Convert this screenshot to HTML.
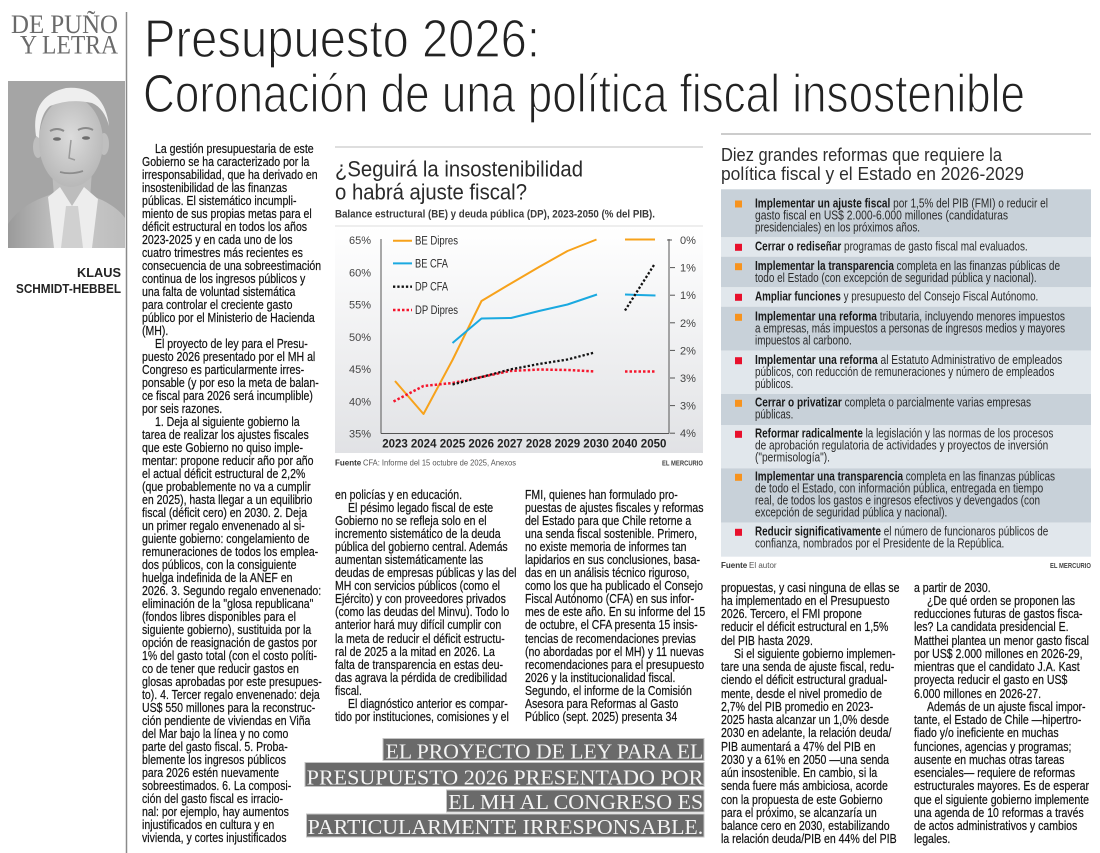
<!DOCTYPE html>
<html lang="es">
<head>
<meta charset="utf-8">
<style>
  html,body{margin:0;padding:0;background:#fff;}
  body{width:1100px;height:853px;position:relative;overflow:hidden;}
  svg.page{position:absolute;left:0;top:0;}
  .c{position:absolute;font-family:"Liberation Sans",sans-serif;font-size:13px;color:#111;white-space:pre;transform:scaleX(.81);transform-origin:0 0;-webkit-text-stroke:0.2px #111;}
  .i{display:inline-block;width:16px;}
  #c1{left:142px;top:141.5px;line-height:13px;}
  #c2{left:335px;top:487.5px;line-height:13.1px;}
  #c3{left:525px;top:487.5px;line-height:13.1px;}
  #c4{left:721px;top:580.5px;line-height:13.25px;}
  #c5{left:914px;top:580.5px;line-height:13.25px;}
</style>
</head>
<body>
<svg class="page" width="1100" height="853" viewBox="0 0 1100 853" xmlns="http://www.w3.org/2000/svg" font-family="Liberation Sans, sans-serif">
  <defs>
    <linearGradient id="bg" x1="0" y1="0" x2="0" y2="1">
      <stop offset="0" stop-color="#ffffff"/>
      <stop offset="1" stop-color="#e1e2e5"/>
    </linearGradient>
    <linearGradient id="suit" x1="0" y1="0" x2="1" y2="0">
      <stop offset="0" stop-color="#9a9a9a"/>
      <stop offset="0.5" stop-color="#c9c9c9"/>
      <stop offset="1" stop-color="#bdbdbd"/>
    </linearGradient>
    <radialGradient id="face" cx="0.5" cy="0.45" r="0.6">
      <stop offset="0" stop-color="#dcdcdc"/>
      <stop offset="1" stop-color="#b5b5b5"/>
    </radialGradient>
  </defs>

  <!-- Header left -->
  <text x="11" y="33" font-family="Liberation Serif, serif" font-size="26" fill="#6a6a6a" textLength="107" lengthAdjust="spacingAndGlyphs">DE PUÑO</text>
  <text x="20" y="53.5" font-family="Liberation Serif, serif" font-size="26" fill="#6a6a6a" textLength="98" lengthAdjust="spacingAndGlyphs">Y LETRA</text>
  <line x1="126.5" y1="12" x2="126.5" y2="853" stroke="#8a8a8a" stroke-width="1.5"/>

  <!-- Photo -->
  <rect x="8" y="81" width="117" height="167" fill="#a5a5a5"/>
  <path d="M8 248 L8 224 Q20 206 44 197 L62 190 L82 192 L102 200 Q118 208 125 218 L125 248 Z" fill="url(#suit)"/>
  <path d="M52 170 L92 170 L90 200 L72 210 L54 198 Z" fill="#bdbdbd"/>
  <path d="M48 197 L60 187 L72 206 L84 187 L98 199 L92 248 L54 248 Z" fill="#ededed"/>
  <path d="M66 206 L78 206 L83 248 L61 248 Z" fill="#d0d0d0"/>
  <ellipse cx="38" cy="147" rx="5" ry="11" fill="#bfbfbf"/>
  <ellipse cx="104" cy="144" rx="5" ry="11" fill="#bfbfbf"/>
  <ellipse cx="71" cy="142" rx="32" ry="45" fill="url(#face)"/>
  <path d="M36 136 Q30 96 66 88 Q104 85 109 126 Q104 108 92 103 Q70 98 50 106 Q40 114 39 138 Z" fill="#eeeeee"/>
  <path d="M50 131 Q57 127 64 131" stroke="#8a8a8a" stroke-width="2" fill="none"/>
  <path d="M78 130 Q86 126 93 130" stroke="#8a8a8a" stroke-width="2" fill="none"/>
  <ellipse cx="57" cy="139" rx="4" ry="1.8" fill="#6e6e6e"/>
  <ellipse cx="86" cy="138" rx="4" ry="1.8" fill="#6e6e6e"/>
  <path d="M71 140 L69 158 L75 160" stroke="#9a9a9a" stroke-width="1.5" fill="none"/>
  <path d="M60 172 Q71 175 83 171" stroke="#8c8c8c" stroke-width="1.8" fill="none"/>

  <!-- Author -->
  <text x="77" y="277" font-size="13" font-weight="bold" fill="#222" textLength="44" lengthAdjust="spacingAndGlyphs">KLAUS</text>
  <text x="16" y="293" font-size="13" font-weight="bold" fill="#222" textLength="105" lengthAdjust="spacingAndGlyphs">SCHMIDT-HEBBEL</text>

  <!-- Main title -->
  <g font-size="54" fill="#222" stroke="#fff" stroke-width="1.3">
    <text x="144" y="57" textLength="396" lengthAdjust="spacingAndGlyphs">Presupuesto 2026:</text>
    <text x="143" y="112" textLength="882" lengthAdjust="spacingAndGlyphs">Coronación de una política fiscal insostenible</text>
  </g>

  <!-- ============ CHART ============ -->
  <line x1="335" y1="147" x2="703" y2="147" stroke="#bdbdbd" stroke-width="1"/>
  <text x="335" y="176.5" font-size="22" fill="#2a2a2a" textLength="248" lengthAdjust="spacingAndGlyphs">¿Seguirá la insostenibilidad</text>
  <text x="335" y="199.5" font-size="22" fill="#2a2a2a" textLength="192" lengthAdjust="spacingAndGlyphs">o habrá ajuste fiscal?</text>
  <text x="335" y="217.5" font-size="11" font-weight="bold" fill="#3a3a3a" textLength="320" lengthAdjust="spacingAndGlyphs">Balance estructural (BE) y deuda pública (DP), 2023-2050 (% del PIB).</text>
  <line x1="335" y1="226" x2="703" y2="226" stroke="#dcdcdc" stroke-width="1"/>
  <rect x="335" y="227" width="368" height="226" fill="url(#bg)"/>

  <!-- axes -->
  <line x1="381" y1="239" x2="381" y2="433.5" stroke="#555" stroke-width="1"/>
  <line x1="381" y1="433.5" x2="669" y2="433.5" stroke="#555" stroke-width="1"/>
  <line x1="669" y1="239" x2="669" y2="433.5" stroke="#555" stroke-width="1"/>

  <g font-size="11" fill="#444" text-anchor="end">
    <text x="371" y="244">65%</text>
    <text x="371" y="276.3">60%</text>
    <text x="371" y="308.5">55%</text>
    <text x="371" y="340.8">50%</text>
    <text x="371" y="373">45%</text>
    <text x="371" y="405.3">40%</text>
    <text x="371" y="437.5">35%</text>
  </g>
  <g stroke="#555" stroke-width="1">
    <line x1="667" y1="240" x2="672" y2="240"/>
    <line x1="670" y1="267.6" x2="675" y2="267.6"/>
    <line x1="670" y1="295.2" x2="675" y2="295.2"/>
    <line x1="670" y1="322.8" x2="675" y2="322.8"/>
    <line x1="670" y1="350.4" x2="675" y2="350.4"/>
    <line x1="670" y1="378" x2="675" y2="378"/>
    <line x1="670" y1="405.6" x2="675" y2="405.6"/>
    <line x1="670" y1="433.2" x2="675" y2="433.2"/>
  </g>
  <g font-size="11" fill="#444">
    <text x="680" y="244">0%</text>
    <text x="680" y="271.6">1%</text>
    <text x="680" y="299.2">1%</text>
    <text x="680" y="326.8">2%</text>
    <text x="680" y="354.4">2%</text>
    <text x="680" y="382">3%</text>
    <text x="680" y="409.6">3%</text>
    <text x="680" y="437.2">4%</text>
  </g>
  <g font-size="11.5" font-weight="bold" fill="#222" text-anchor="middle">
    <text x="395" y="447.5">2023</text>
    <text x="423.7" y="447.5">2024</text>
    <text x="452.5" y="447.5">2025</text>
    <text x="481.2" y="447.5">2026</text>
    <text x="509.9" y="447.5">2027</text>
    <text x="538.7" y="447.5">2028</text>
    <text x="567.4" y="447.5">2029</text>
    <text x="596.1" y="447.5">2030</text>
    <text x="624.8" y="447.5">2040</text>
    <text x="653.6" y="447.5">2050</text>
  </g>

  <!-- series -->
  <g fill="none" stroke-linejoin="round">
    <polyline points="395,381 423.5,414 452.5,360 481.5,301 510,284 539,267 567.5,251 596.5,239.5" stroke="#f7a21b" stroke-width="2"/>
    <line x1="625" y1="239.5" x2="655" y2="239.5" stroke="#f7a21b" stroke-width="2"/>
    <polyline points="452.5,343 481.5,318.5 511,318 539,311 567.5,304.5 597,294.5" stroke="#1aa9e0" stroke-width="2"/>
    <line x1="625" y1="294.5" x2="655.5" y2="295.5" stroke="#1aa9e0" stroke-width="2"/>
    <polyline points="393.5,401.5 423.5,386 452.5,383 481.5,377 510,371 539,369.5 567.5,370 595,371.5" stroke="#f5162d" stroke-width="2.5" stroke-dasharray="2.5 2"/>
    <line x1="625" y1="371.5" x2="655" y2="371.5" stroke="#f5162d" stroke-width="2.5" stroke-dasharray="2.5 2"/>
    <polyline points="452.5,384.5 481.5,377 510,369.5 539,364 567.5,359.5 594.5,352.5" stroke="#111" stroke-width="2.3" stroke-dasharray="2.3 2"/>
    <line x1="625" y1="310.5" x2="654" y2="265" stroke="#111" stroke-width="2.3" stroke-dasharray="2.3 2"/>
  </g>

  <!-- legend -->
  <line x1="393" y1="240.7" x2="412" y2="240.7" stroke="#f7a21b" stroke-width="2"/>
  <line x1="393" y1="263.4" x2="412" y2="263.4" stroke="#1aa9e0" stroke-width="2"/>
  <line x1="393" y1="286.7" x2="412" y2="286.7" stroke="#111" stroke-width="2.3" stroke-dasharray="2.3 2"/>
  <line x1="393" y1="310" x2="412" y2="310" stroke="#f5162d" stroke-width="2.5" stroke-dasharray="2.5 2"/>
  <g font-size="11.5" fill="#2a2a2a">
    <text x="415" y="244.7" textLength="43" lengthAdjust="spacingAndGlyphs">BE Dipres</text>
    <text x="415" y="267.4" textLength="33" lengthAdjust="spacingAndGlyphs">BE CFA</text>
    <text x="415" y="290.7" textLength="33" lengthAdjust="spacingAndGlyphs">DP CFA</text>
    <text x="415" y="314" textLength="43" lengthAdjust="spacingAndGlyphs">DP Dipres</text>
  </g>

  <text x="335" y="465.5" font-size="8" font-weight="bold" fill="#333">Fuente</text>
  <text x="363" y="465.5" font-size="8" fill="#555" textLength="153" lengthAdjust="spacingAndGlyphs">CFA: Informe del 15 octubre de 2025, Anexos</text>
  <text x="662" y="465.5" font-size="7" font-weight="bold" fill="#444" textLength="41" lengthAdjust="spacingAndGlyphs">EL MERCURIO</text>

  <!-- ============ REFORMS BOX ============ -->
  <line x1="721" y1="134" x2="1091" y2="134" stroke="#9a9a9a" stroke-width="1"/>
  <text x="721" y="161" font-size="18" fill="#2e2e2e" textLength="281" lengthAdjust="spacingAndGlyphs">Diez grandes reformas que requiere la</text>
  <text x="721" y="180" font-size="18" fill="#2e2e2e" textLength="303" lengthAdjust="spacingAndGlyphs">política fiscal y el Estado en 2026-2029</text>

  <g>
    <rect x="721" y="189.3" width="370" height="48" fill="#c8d1d9"/>
    <rect x="721" y="237.3" width="370" height="19.4" fill="#e1e7ec"/>
    <rect x="721" y="256.7" width="370" height="30.6" fill="#c8d1d9"/>
    <rect x="721" y="287.3" width="370" height="19.4" fill="#e1e7ec"/>
    <rect x="721" y="306.7" width="370" height="44" fill="#c8d1d9"/>
    <rect x="721" y="350.7" width="370" height="43.3" fill="#e1e7ec"/>
    <rect x="721" y="394" width="370" height="31" fill="#c8d1d9"/>
    <rect x="721" y="425" width="370" height="43.3" fill="#e1e7ec"/>
    <rect x="721" y="468.3" width="370" height="54.4" fill="#c8d1d9"/>
    <rect x="721" y="522.7" width="370" height="34" fill="#e1e7ec"/>
  </g>
  <g>
    <rect x="735" y="200.5" width="7" height="7" fill="#f7931e"/>
    <rect x="735" y="243.8" width="7" height="7" fill="#e8102c"/>
    <rect x="735" y="263.2" width="7" height="7" fill="#f7931e"/>
    <rect x="735" y="293.8" width="7" height="7" fill="#e8102c"/>
    <rect x="735" y="313.8" width="7" height="7" fill="#f7931e"/>
    <rect x="735" y="357.2" width="7" height="7" fill="#e8102c"/>
    <rect x="735" y="399.8" width="7" height="7" fill="#f7931e"/>
    <rect x="735" y="430.8" width="7" height="7" fill="#e8102c"/>
    <rect x="735" y="473.8" width="7" height="7" fill="#f7931e"/>
    <rect x="735" y="528.8" width="7" height="7" fill="#e8102c"/>
  </g>
  <g font-size="12.5" fill="#2a2a2a">
    <text x="755" y="207.3" textLength="293" lengthAdjust="spacingAndGlyphs"><tspan font-weight="bold" fill="#1a1a1a">Implementar un ajuste fiscal</tspan> por 1,5% del PIB (FMI) o reducir el</text>
    <text x="755" y="219.3" textLength="253" lengthAdjust="spacingAndGlyphs">gasto fiscal en US$ 2.000-6.000 millones (candidaturas</text>
    <text x="755" y="231.3" textLength="165" lengthAdjust="spacingAndGlyphs">presidenciales) en los próximos años.</text>

    <text x="755" y="250.6" textLength="272.7" lengthAdjust="spacingAndGlyphs"><tspan font-weight="bold" fill="#1a1a1a">Cerrar o rediseñar</tspan> programas de gasto fiscal mal evaluados.</text>

    <text x="755" y="270" textLength="305" lengthAdjust="spacingAndGlyphs"><tspan font-weight="bold" fill="#1a1a1a">Implementar la transparencia</tspan> completa en las finanzas públicas de</text>
    <text x="755" y="282" textLength="281.7" lengthAdjust="spacingAndGlyphs">todo el Estado (con excepción de seguridad pública y nacional).</text>

    <text x="755" y="300.6" textLength="283.3" lengthAdjust="spacingAndGlyphs"><tspan font-weight="bold" fill="#1a1a1a">Ampliar funciones</tspan> y presupuesto del Consejo Fiscal Autónomo.</text>

    <text x="755" y="320.6" textLength="310" lengthAdjust="spacingAndGlyphs"><tspan font-weight="bold" fill="#1a1a1a">Implementar una reforma</tspan> tributaria, incluyendo menores impuestos</text>
    <text x="755" y="332.6" textLength="310" lengthAdjust="spacingAndGlyphs">a empresas, más impuestos a personas de ingresos medios y mayores</text>
    <text x="755" y="344.6" textLength="96.7" lengthAdjust="spacingAndGlyphs">impuestos al carbono.</text>

    <text x="755" y="364" textLength="307.3" lengthAdjust="spacingAndGlyphs"><tspan font-weight="bold" fill="#1a1a1a">Implementar una reforma</tspan> al Estatuto Administrativo de empleados</text>
    <text x="755" y="376" textLength="299.3" lengthAdjust="spacingAndGlyphs">públicos, con reducción de remuneraciones y número de empleados</text>
    <text x="755" y="388" textLength="38.3" lengthAdjust="spacingAndGlyphs">públicos.</text>

    <text x="755" y="406.6" textLength="276" lengthAdjust="spacingAndGlyphs"><tspan font-weight="bold" fill="#1a1a1a">Cerrar o privatizar</tspan> completa o parcialmente varias empresas</text>
    <text x="755" y="418.6" textLength="38.3" lengthAdjust="spacingAndGlyphs">públicas.</text>

    <text x="755" y="437.6" textLength="298.3" lengthAdjust="spacingAndGlyphs"><tspan font-weight="bold" fill="#1a1a1a">Reformar radicalmente</tspan> la legislación y las normas de los procesos</text>
    <text x="755" y="449.6" textLength="293.3" lengthAdjust="spacingAndGlyphs">de aprobación regulatoria de actividades y proyectos de inversión</text>
    <text x="755" y="461.6" textLength="75" lengthAdjust="spacingAndGlyphs">("permisología").</text>

    <text x="755" y="480.6" textLength="300" lengthAdjust="spacingAndGlyphs"><tspan font-weight="bold" fill="#1a1a1a">Implementar una transparencia</tspan> completa en las finanzas públicas</text>
    <text x="755" y="492.6" textLength="288.3" lengthAdjust="spacingAndGlyphs">de todo el Estado, con información pública, entregada en tiempo</text>
    <text x="755" y="504.6" textLength="285" lengthAdjust="spacingAndGlyphs">real, de todos los gastos e ingresos efectivos y devengados (con</text>
    <text x="755" y="516.6" textLength="192.3" lengthAdjust="spacingAndGlyphs">excepción de seguridad pública y nacional).</text>

    <text x="755" y="535.6" textLength="293.3" lengthAdjust="spacingAndGlyphs"><tspan font-weight="bold" fill="#1a1a1a">Reducir significativamente</tspan> el número de funcionaros públicos de</text>
    <text x="755" y="547.6" textLength="249.3" lengthAdjust="spacingAndGlyphs">confianza, nombrados por el Presidente de la República.</text>
  </g>

  <text x="721" y="568" font-size="8" font-weight="bold" fill="#333">Fuente</text>
  <text x="749" y="568" font-size="8" fill="#555">El autor</text>
  <text x="1050" y="568" font-size="7" font-weight="bold" fill="#444" textLength="41" lengthAdjust="spacingAndGlyphs">EL MERCURIO</text>

  <!-- ============ PULL QUOTE ============ -->
  <g fill="#6a6a6a" stroke="#c4c4c4" stroke-width="1">
    <rect x="383" y="738.5" width="321" height="22"/>
    <rect x="305" y="762.5" width="399" height="24"/>
    <rect x="446.5" y="790" width="257.5" height="22"/>
    <rect x="306.5" y="814" width="397.5" height="23"/>
  </g>
  <g font-family="Liberation Serif, serif" font-size="21" fill="#f4f4f4">
    <text x="385.7" y="758.3" textLength="317.6" lengthAdjust="spacingAndGlyphs">EL PROYECTO DE LEY PARA EL</text>
    <text x="306.7" y="784.3" textLength="396.6" lengthAdjust="spacingAndGlyphs">PRESUPUESTO 2026 PRESENTADO POR</text>
    <text x="448.3" y="809" textLength="255" lengthAdjust="spacingAndGlyphs">EL MH AL CONGRESO ES</text>
    <text x="307.7" y="834" textLength="395.6" lengthAdjust="spacingAndGlyphs">PARTICULARMENTE IRRESPONSABLE.</text>
  </g>
</svg>

<div class="c" id="c1"><span class="i"></span>La gestión presupuestaria de este
Gobierno se ha caracterizado por la
irresponsabilidad, que ha derivado en
insostenibilidad de las finanzas
públicas. El sistemático incumpli-
miento de sus propias metas para el
déficit estructural en todos los años
2023-2025 y en cada uno de los
cuatro trimestres más recientes es
consecuencia de una sobreestimación
continua de los ingresos públicos y
una falta de voluntad sistemática
para controlar el creciente gasto
público por el Ministerio de Hacienda
(MH).
<span class="i"></span>El proyecto de ley para el Presu-
puesto 2026 presentado por el MH al
Congreso es particularmente irres-
ponsable (y por eso la meta de balan-
ce fiscal para 2026 será incumplible)
por seis razones.
<span class="i"></span>1. Deja al siguiente gobierno la
tarea de realizar los ajustes fiscales
que este Gobierno no quiso imple-
mentar: propone reducir año por año
el actual déficit estructural de 2,2%
(que probablemente no va a cumplir
en 2025), hasta llegar a un equilibrio
fiscal (déficit cero) en 2030. 2. Deja
un primer regalo envenenado al si-
guiente gobierno: congelamiento de
remuneraciones de todos los emplea-
dos públicos, con la consiguiente
huelga indefinida de la ANEF en
2026. 3. Segundo regalo envenenado:
eliminación de la "glosa republicana"
(fondos libres disponibles para el
siguiente gobierno), sustituida por la
opción de reasignación de gastos por
1% del gasto total (con el costo políti-
co de tener que reducir gastos en
glosas aprobadas por este presupues-
to). 4. Tercer regalo envenenado: deja
US$ 550 millones para la reconstruc-
ción pendiente de viviendas en Viña
del Mar bajo la línea y no como
parte del gasto fiscal. 5. Proba-
blemente los ingresos públicos
para 2026 estén nuevamente
sobreestimados. 6. La composi-
ción del gasto fiscal es irracio-
nal: por ejemplo, hay aumentos
injustificados en cultura y en
vivienda, y cortes injustificados</div>

<div class="c" id="c2">en policías y en educación.
<span class="i"></span>El pésimo legado fiscal de este
Gobierno no se refleja solo en el
incremento sistemático de la deuda
pública del gobierno central. Además
aumentan sistemáticamente las
deudas de empresas públicas y las del
MH con servicios públicos (como el
Ejército) y con proveedores privados
(como las deudas del Minvu). Todo lo
anterior hará muy difícil cumplir con
la meta de reducir el déficit estructu-
ral de 2025 a la mitad en 2026. La
falta de transparencia en estas deu-
das agrava la pérdida de credibilidad
fiscal.
<span class="i"></span>El diagnóstico anterior es compar-
tido por instituciones, comisiones y el</div>

<div class="c" id="c3">FMI, quienes han formulado pro-
puestas de ajustes fiscales y reformas
del Estado para que Chile retorne a
una senda fiscal sostenible. Primero,
no existe memoria de informes tan
lapidarios en sus conclusiones, basa-
das en un análisis técnico riguroso,
como los que ha publicado el Consejo
Fiscal Autónomo (CFA) en sus infor-
mes de este año. En su informe del 15
de octubre, el CFA presenta 15 insis-
tencias de recomendaciones previas
(no abordadas por el MH) y 11 nuevas
recomendaciones para el presupuesto
2026 y la institucionalidad fiscal.
Segundo, el informe de la Comisión
Asesora para Reformas al Gasto
Público (sept. 2025) presenta 34</div>

<div class="c" id="c4">propuestas, y casi ninguna de ellas se
ha implementado en el Presupuesto
2026. Tercero, el FMI propone
reducir el déficit estructural en 1,5%
del PIB hasta 2029.
<span class="i"></span>Si el siguiente gobierno implemen-
tare una senda de ajuste fiscal, redu-
ciendo el déficit estructural gradual-
mente, desde el nivel promedio de
2,7% del PIB promedio en 2023-
2025 hasta alcanzar un 1,0% desde
2030 en adelante, la relación deuda/
PIB aumentará a 47% del PIB en
2030 y a 61% en 2050 —una senda
aún insostenible. En cambio, si la
senda fuere más ambiciosa, acorde
con la propuesta de este Gobierno
para el próximo, se alcanzaría un
balance cero en 2030, estabilizando
la relación deuda/PIB en 44% del PIB</div>

<div class="c" id="c5">a partir de 2030.
<span class="i"></span>¿De qué orden se proponen las
reducciones futuras de gastos fisca-
les? La candidata presidencial E.
Matthei plantea un menor gasto fiscal
por US$ 2.000 millones en 2026-29,
mientras que el candidato J.A. Kast
proyecta reducir el gasto en US$
6.000 millones en 2026-27.
<span class="i"></span>Además de un ajuste fiscal impor-
tante, el Estado de Chile —hipertro-
fiado y/o ineficiente en muchas
funciones, agencias y programas;
ausente en muchas otras tareas
esenciales— requiere de reformas
estructurales mayores. Es de esperar
que el siguiente gobierno implemente
una agenda de 10 reformas a través
de actos administrativos y cambios
legales.</div>
</body>
</html>
